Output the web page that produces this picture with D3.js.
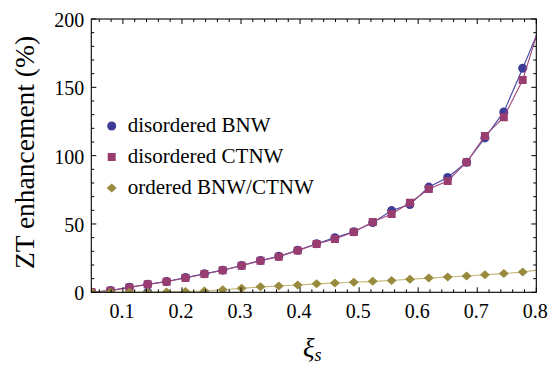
<!DOCTYPE html>
<html>
<head>
<meta charset="utf-8">
<script src="https://cdn.jsdelivr.net/npm/d3@7"></script>
<style>
  body { margin: 0; background: #fff; }
  svg text { font-family: "Liberation Serif", "DejaVu Serif", serif !important; fill: #000; }
</style>
</head>
<body>
<div id="chart"></div>
<script>
// xi_s values (last one sits just past the frame, only its line segment shows)
let xiValues = [0.047, 0.079, 0.111, 0.142, 0.174, 0.206, 0.238, 0.269, 0.301, 0.333, 0.364, 0.396,
  0.428, 0.459, 0.491, 0.523, 0.555, 0.586, 0.618, 0.650, 0.682, 0.713, 0.745, 0.777, 0.809];
let bnwValues = [0, 1.3, 3.7, 5.9, 7.9, 10.8, 13.5, 16.2, 19.6, 23.3, 26.3, 30.7,
  35.6, 40.0, 44.3, 51.0, 59.8, 64.2, 77.0, 84.0, 95.2, 113.0, 132.0, 164.0, 197];
let ctnwValues = [0, 1.2, 3.6, 5.8, 7.8, 10.5, 13.4, 16.1, 19.5, 23.1, 26.1, 30.5,
  35.4, 39.0, 44.1, 51.5, 57.3, 65.5, 75.6, 81.5, 95.2, 114.4, 128.1, 155.4, 200];
let orderedValues = [0, 0, 0, 0.1, 0.3, 0.6, 1.0, 1.9, 2.9, 4.0, 4.6, 5.3,
  6.2, 6.8, 7.4, 8.0, 8.6, 9.6, 10.4, 11.2, 11.9, 12.8, 13.7, 14.9, 16.7];
// stray BNW marker sitting on the axis
let bnwStrayX = [0.142], bnwStrayY = [0];

let xTickValues = [0.1, 0.2, 0.3, 0.4, 0.5, 0.6, 0.7, 0.8];
let yTickValues = [0, 50, 100, 150, 200];
let seriesNames = ['disordered BNW', 'disordered CTNW', 'ordered BNW/CTNW'];

let svgWidth = 559, svgHeight = 366,
  plotLeft = 91.3, plotRight = 536.3,
  plotTop = 19, plotBottom = 292.3;

let colors = ['#3d3d99', '#993d71', '#998b3d'],
  lineColors = ['#4545a5', '#a04a7c', '#c2b574'];

const svg = d3.select('#chart')
  .append('svg')
  .attr('width', svgWidth)
  .attr('height', svgHeight);

const x = d3.scaleLinear().domain([0.0465, 0.8]).range([plotLeft, plotRight]);
const y = d3.scaleLinear().domain([0, 200]).range([plotBottom, plotTop]);

svg.append('clipPath')
  .attr('id', 'plotClip')
  .append('rect')
  .attr('x', plotLeft)
  .attr('y', plotTop)
  .attr('width', plotRight - plotLeft)
  .attr('height', plotBottom - plotTop);

// marker shapes
const circleSym = d3.symbol().type(d3.symbolCircle).size(64);
const squareSym = d3.symbol().type(d3.symbolSquare).size(64);
const diamondPath = 'M0,-4.5L5,0L0,4.5L-5,0Z';
const markerPath = [() => circleSym(), () => squareSym(), () => diamondPath];

const series = [bnwValues, ctnwValues, orderedValues].map((vals, k) =>
  xiValues.map((xv, i) => ({ x: xv, y: vals[i], k: k })));

const plot = svg.append('g').attr('clip-path', 'url(#plotClip)');

const line = d3.line().x(d => x(d.x)).y(d => y(d.y));

series.forEach((pts, k) => {
  plot.append('path')
    .datum(pts)
    .attr('d', line)
    .attr('fill', 'none')
    .attr('stroke', lineColors[k])
    .attr('stroke-width', 1.1);

  if (k === 0) {
    plot.selectAll('.stray')
      .data(bnwStrayX.map((xv, i) => ({ x: xv, y: bnwStrayY[i] })))
      .enter()
      .append('path')
      .attr('transform', d => `translate(${x(d.x)},${y(d.y)})`)
      .attr('d', markerPath[0]())
      .attr('fill', colors[0]);
  }

  plot.selectAll('.marker-' + k)
    .data(pts)
    .enter()
    .append('path')
    .attr('class', 'marker-' + k)
    .attr('transform', d => `translate(${x(d.x)},${y(d.y)})`)
    .attr('d', markerPath[k]())
    .attr('fill', colors[k]);
});

// frame with ticks on every side
const frame = svg.append('g');
frame.append('rect')
  .attr('x', plotLeft)
  .attr('y', plotTop)
  .attr('width', plotRight - plotLeft)
  .attr('height', plotBottom - plotTop)
  .attr('fill', 'none')
  .attr('stroke', '#000')
  .attr('stroke-width', 1.1);

const xMinor = d3.range(0.06, 0.801, 0.02).filter(v => !xTickValues.some(t => Math.abs(t - v) < 1e-6));
const yMinor = d3.range(10, 200, 10).filter(v => v % 50 !== 0);

const bottomAxis = d3.axisBottom(x).tickValues(xTickValues).tickSize(0).tickPadding(0).tickFormat(d3.format('.1f'));
const leftAxis = d3.axisLeft(y).tickValues(yTickValues).tickSize(0).tickFormat(d3.format('d'));

[[xTickValues, 5], [xMinor, 3]].forEach(([vals, len]) => {
  frame.selectAll(null)
    .data(vals)
    .enter()
    .append('line')
    .attr('x1', d => x(d)).attr('x2', d => x(d))
    .attr('y1', plotBottom).attr('y2', plotBottom - len)
    .attr('stroke', '#000');
  frame.selectAll(null)
    .data(vals)
    .enter()
    .append('line')
    .attr('x1', d => x(d)).attr('x2', d => x(d))
    .attr('y1', plotTop).attr('y2', plotTop + len)
    .attr('stroke', '#000');
});

[[yTickValues, 5], [yMinor, 3]].forEach(([vals, len]) => {
  frame.selectAll(null)
    .data(vals)
    .enter()
    .append('line')
    .attr('x1', plotLeft).attr('x2', plotLeft + len)
    .attr('y1', d => y(d)).attr('y2', d => y(d))
    .attr('stroke', '#000');
  frame.selectAll(null)
    .data(vals)
    .enter()
    .append('line')
    .attr('x1', plotRight).attr('x2', plotRight - len)
    .attr('y1', d => y(d)).attr('y2', d => y(d))
    .attr('stroke', '#000');
});

// tick labels through d3 axes
const xAxisG = svg.append('g')
  .attr('transform', `translate(0, ${plotBottom})`)
  .call(bottomAxis);
xAxisG.select('.domain').remove();
xAxisG.selectAll('text')
  .attr('y', 0)
  .attr('dy', 25.5)
  .attr('dx', -1.5)
  .attr('font-size', 20)
  .attr('fill', '#000');

const yAxisG = svg.append('g')
  .attr('transform', `translate(${plotLeft - 7}, 0)`)
  .call(leftAxis);
yAxisG.select('.domain').remove();
yAxisG.selectAll('text')
  .attr('x', 0)
  .attr('dy', 7.5)
  .attr('font-size', 20)
  .attr('fill', '#000');

// axis titles
svg.append('text')
  .attr('transform', `translate(33.5, 152.5) rotate(-90)`)
  .attr('text-anchor', 'middle')
  .attr('font-size', 27.5)
  .text('ZT enhancement (%)');

const xTitle = svg.append('text')
  .attr('x', 303)
  .attr('y', 357)
  .attr('font-size', 27)
  .attr('font-style', 'italic');
xTitle.append('tspan').text('ξ');
xTitle.append('tspan')
  .attr('font-size', 18)
  .attr('dy', 4)
  .text('s');

// legend
const legend = svg.selectAll('.legend')
  .data(seriesNames)
  .enter()
  .append('g')
  .attr('class', 'legend')
  .attr('transform', (d, i) => `translate(111.7, ${126 + i * 31})`);

legend.append('path')
  .attr('d', (d, i) => markerPath[i]())
  .attr('fill', (d, i) => colors[i]);

legend.append('text')
  .attr('x', 16)
  .attr('y', 5.5)
  .attr('font-size', 21)
  .text(d => d);
</script>
</body>
</html>
